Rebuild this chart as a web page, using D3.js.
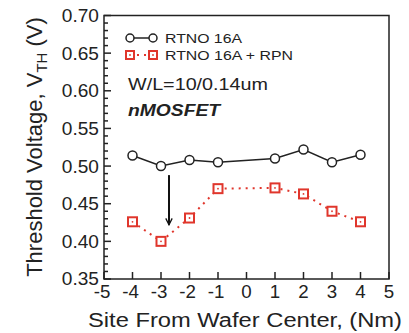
<!DOCTYPE html>
<html><head><meta charset="utf-8">
<script src="https://cdn.jsdelivr.net/npm/d3@7"></script>
<style>body{margin:0;background:#fff;} text{font-family:"Liberation Sans",Arial,sans-serif;fill:#222;}</style>
</head><body><svg id="c" width="409" height="333"></svg>
<script>
const sites = [-4, -3, -2, -1, 1, 2, 3, 4];
const vthRTNO = [0.514, 0.500, 0.508, 0.505, 0.510, 0.522, 0.505, 0.515];
const vthRPN = [0.426, 0.400, 0.431, 0.470, 0.471, 0.463, 0.440, 0.426];
const xTicks = [-5, -4, -3, -2, -1, 0, 1, 2, 3, 4, 5];
const yTicks = [0.35, 0.40, 0.45, 0.50, 0.55, 0.60, 0.65, 0.70];
const seriesNames = ["RTNO 16A", "RTNO 16A + RPN"];
const arrowX = -2.72, arrowFrom = 0.488, arrowTo = 0.422;

const svg = d3.select("#c");
const L = 104, R = 389, T = 15.5, B = 279;
const x = d3.scaleLinear().domain([-5, 5]).range([L, R]);
const y = d3.scaleLinear().domain([0.35, 0.70]).range([B, T]);
const red = "#e0362c";
function stretch(sel, f) {
  sel.each(function () {
    const w = this.getComputedTextLength();
    d3.select(this).attr("textLength", w * f).attr("lengthAdjust", "spacingAndGlyphs");
  });
}

// frame
svg.append("rect").attr("x", L).attr("y", T).attr("width", R - L).attr("height", B - T)
  .attr("fill", "none").attr("stroke", "#222").attr("stroke-width", 1.5);

// y axis ticks (inward) with minor
const yMinor = d3.range(35, 71).map(v => v / 100);
svg.append("g").selectAll("line").data(yMinor).join("line")
  .attr("x1", L).attr("x2", d => L + (Math.abs(Math.round(d * 100) % 5) === 0 ? 7 : 4))
  .attr("y1", d => y(d)).attr("y2", d => y(d)).attr("stroke", "#222").attr("stroke-width", 1.5);
const ytl = svg.append("g").selectAll("text").data(yTicks).join("text")
  .attr("x", L - 5).attr("y", d => y(d)).attr("dy", "0.36em").attr("text-anchor", "end")
  .attr("font-size", 18).text(d => d.toFixed(2));
stretch(ytl, 1.06);

// x axis ticks
svg.append("g").selectAll("line").data(xTicks).join("line")
  .attr("x1", d => x(d)).attr("x2", d => x(d)).attr("y1", B).attr("y2", B - 7)
  .attr("stroke", "#222").attr("stroke-width", 1.5);
const xtl = svg.append("g").selectAll("text").data(xTicks).join("text")
  .attr("x", d => x(d) - (d < 0 ? 2 : 0)).attr("y", B + 19).attr("text-anchor", "middle")
  .attr("font-size", 18).text(d => d);
stretch(xtl, 1.04);

// axis titles
svg.append("text").attr("x", 245).attr("y", 327).attr("text-anchor", "middle")
  .attr("font-size", 20).attr("textLength", 314).attr("lengthAdjust", "spacingAndGlyphs")
  .text("Site From Wafer Center, (Nm)");
const yt = svg.append("text").attr("transform", "translate(42,147) rotate(-90)")
  .attr("text-anchor", "middle").attr("font-size", 22);
yt.append("tspan").text("Threshold Voltage, V");
yt.append("tspan").attr("font-size", 15).attr("dy", 5).text("TH");
yt.append("tspan").attr("dy", -5).text(" (V)");

// series
const line = d3.line().x((d, i) => x(sites[i])).y(d => y(d));
svg.append("path").datum(vthRPN).attr("d", line).attr("fill", "none")
  .attr("stroke", red).attr("stroke-width", 2).attr("stroke-dasharray", "2,5");
svg.append("path").datum(vthRTNO).attr("d", line).attr("fill", "none")
  .attr("stroke", "#222").attr("stroke-width", 1.5);
svg.append("g").selectAll("circle").data(vthRTNO).join("circle")
  .attr("cx", (d, i) => x(sites[i])).attr("cy", d => y(d)).attr("r", 4.5)
  .attr("fill", "#fff").attr("stroke", "#222").attr("stroke-width", 1.5);
svg.append("g").selectAll("rect").data(vthRPN).join("rect")
  .attr("x", (d, i) => x(sites[i]) - 4.5).attr("y", d => y(d) - 4.5).attr("width", 9).attr("height", 9)
  .attr("fill", "#fff").attr("stroke", red).attr("stroke-width", 2);
svg.append("g").selectAll("circle").data(vthRPN).join("circle")
  .attr("cx", (d, i) => x(sites[i])).attr("cy", d => y(d)).attr("r", 0.9).attr("fill", red);

// arrow
svg.append("defs").append("marker").attr("id", "ah").attr("viewBox", "0 0 10 10")
  .attr("refX", 9).attr("refY", 5).attr("markerWidth", 8).attr("markerHeight", 8)
  .attr("markerUnits", "userSpaceOnUse").attr("orient", "auto")
  .append("path").attr("d", "M1,1 L9,5 L1,9").attr("fill", "none").attr("stroke", "#111").attr("stroke-width", 1.6);
svg.append("line").attr("x1", x(arrowX)).attr("x2", x(arrowX)).attr("y1", y(arrowFrom)).attr("y2", y(arrowTo))
  .attr("stroke", "#111").attr("stroke-width", 2).attr("marker-end", "url(#ah)");

// legend
const lg = svg.append("g");
lg.append("line").attr("x1", 130).attr("x2", 153).attr("y1", 38).attr("y2", 38).attr("stroke", "#222").attr("stroke-width", 1.5);
[130, 153].forEach(cx => lg.append("circle").attr("cx", cx).attr("cy", 38).attr("r", 4)
  .attr("fill", "#fff").attr("stroke", "#222").attr("stroke-width", 1.5));
lg.append("line").attr("x1", 130).attr("x2", 153).attr("y1", 55).attr("y2", 55).attr("stroke", red)
  .attr("stroke-width", 2).attr("stroke-dasharray", "2,5");
[130, 153].forEach(cx => {
  lg.append("rect").attr("x", cx - 4).attr("y", 51).attr("width", 8).attr("height", 8)
    .attr("fill", "#fff").attr("stroke", red).attr("stroke-width", 2);
  lg.append("circle").attr("cx", cx).attr("cy", 55).attr("r", 0.9).attr("fill", red);
});
lg.append("text").attr("x", 165).attr("y", 38).attr("dy", "0.36em").attr("font-size", 13)
  .attr("textLength", 77).attr("lengthAdjust", "spacingAndGlyphs").text(seriesNames[0]);
lg.append("text").attr("x", 165).attr("y", 55).attr("dy", "0.36em").attr("font-size", 13)
  .attr("textLength", 128).attr("lengthAdjust", "spacingAndGlyphs").text(seriesNames[1]);

svg.append("text").attr("x", 128).attr("y", 90).attr("font-size", 16.5)
  .attr("textLength", 140).attr("lengthAdjust", "spacingAndGlyphs").text("W/L=10/0.14um");
svg.append("text").attr("x", 128).attr("y", 115.5).attr("font-size", 16).attr("font-weight", "bold")
  .attr("font-style", "italic").attr("textLength", 92).attr("lengthAdjust", "spacingAndGlyphs").text("nMOSFET");
</script></body></html>
